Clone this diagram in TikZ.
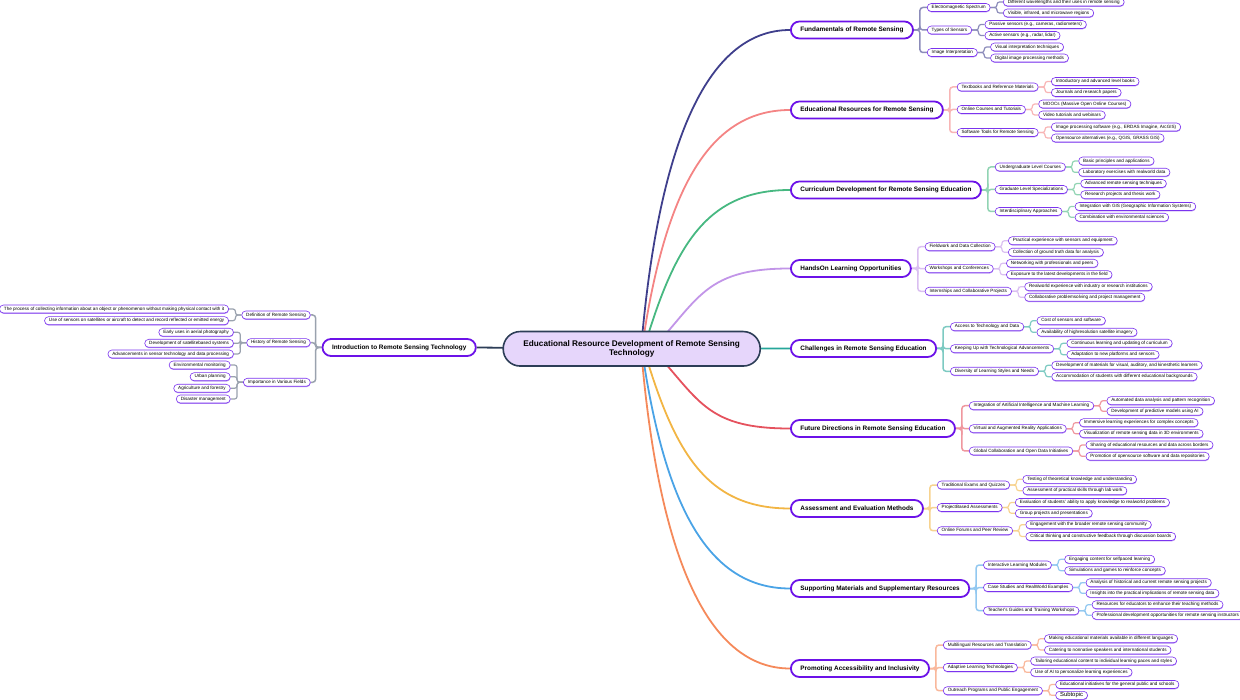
\documentclass[tikz,border=0pt]{standalone}
\usepackage{fontspec}
\setmainfont{Liberation Sans}
\usetikzlibrary{shadows}
\pgfdeclarelayer{bg}
\pgfsetlayers{bg,main}
\definecolor{cnavy}{HTML}{3F3F8C}
\definecolor{cedu}{HTML}{F48484}
\definecolor{ccur}{HTML}{47B881}
\definecolor{chan}{HTML}{C295E8}
\definecolor{ccha}{HTML}{26A69A}
\definecolor{cfut}{HTML}{E5525E}
\definecolor{cass}{HTML}{F2B544}
\definecolor{csup}{HTML}{4AA3E6}
\definecolor{cpro}{HTML}{F5895A}
\definecolor{cint}{HTML}{2D3E57}
\definecolor{mpurp}{HTML}{6C12E8}
\definecolor{spurp}{HTML}{7B34EE}
\definecolor{slav}{HTML}{B792F5}
\definecolor{cfill}{HTML}{E6D6FB}
\colorlet{bc}{cnavy}
\tikzset{
  mainn/.style={draw=mpurp, line width=1.8pt, fill=white, rounded corners=8.5pt,
    minimum height=17pt, inner xsep=9.5pt, inner ysep=0pt,
    font=\fontsize{6.4}{7}\selectfont\bfseries},
  subn/.style={draw=spurp, line width=0.6pt, fill=white, rounded corners=4pt,
    minimum height=8pt, inner xsep=4.5pt, inner ysep=0pt, text height=3.3pt, text depth=1pt,
    font=\fontsize{4.6}{5}\selectfont,
    drop shadow={shadow xshift=0.2pt, shadow yshift=-0.9pt, fill=slav, opacity=1}},
  cen/.style={draw=cint, line width=1.6pt, fill=cfill, rounded corners=17pt,
    minimum width=257pt, minimum height=34.5pt, align=center,
    font=\fontsize{8.2}{9.6}\selectfont\bfseries},
  crv/.style={line width=1.8pt},
  brA/.style={draw=bc!60!white, line width=1.5pt, rounded corners=3pt},
  brB/.style={draw=bc!60!white, line width=1.2pt, rounded corners=2.5pt},
}
\newcommand\mkL[4]{%
  \path (#1.east) ++(13,0) coordinate (#2-p) (0,#3) coordinate (#2-q);
  \node[subn,anchor=west] (#2) at (#2-p |- #2-q) {#4};
  \begin{pgfonlayer}{bg}\draw[brA] (#1.east) -- ++(6,0) |- (#2.west);\end{pgfonlayer}}
\newcommand\mkM[4]{%
  \path (#1.east) ++(12.5,0) coordinate (#2-p) (0,#3) coordinate (#2-q);
  \node[subn,anchor=west] (#2) at (#2-p |- #2-q) {#4};
  \begin{pgfonlayer}{bg}\draw[brB] (#1.east) -- ++(6.5,0) |- (#2.west);\end{pgfonlayer}}
\newcommand\mkLl[4]{%
  \path (#1.west) ++(-11,0) coordinate (#2-p) (0,#3) coordinate (#2-q);
  \node[subn,anchor=east] (#2) at (#2-p |- #2-q) {#4};
  \begin{pgfonlayer}{bg}\draw[brA] (#1.west) -- ++(-6,0) |- (#2.east);\end{pgfonlayer}}
\newcommand\mkMl[4]{%
  \path (#1.west) ++(-12.5,0) coordinate (#2-p) (0,#3) coordinate (#2-q);
  \node[subn,anchor=east] (#2) at (#2-p |- #2-q) {#4};
  \begin{pgfonlayer}{bg}\draw[brB] (#1.west) -- ++(-6,0) |- (#2.east);\end{pgfonlayer}}
\begin{document}
\begin{tikzpicture}[x=1pt,y=-1pt]
\useasboundingbox (0,0) rectangle (1240,700);
% main nodes
\node[mainn,anchor=west] (fund) at (790,30) {Fundamentals of Remote Sensing};
\node[mainn,anchor=west] (edu) at (790,110) {Educational Resources for Remote Sensing};
\node[mainn,anchor=west] (curr) at (790,190) {Curriculum Development for Remote Sensing Education};
\node[mainn,anchor=west] (hands) at (790,268.5) {HandsOn Learning Opportunities};
\node[mainn,anchor=west] (chall) at (790,348.5) {Challenges in Remote Sensing Education};
\node[mainn,anchor=west] (fut) at (790,428.5) {Future Directions in Remote Sensing Education};
\node[mainn,anchor=west] (assess) at (790,508.5) {Assessment and Evaluation Methods};
\node[mainn,anchor=west] (supp) at (790,588.5) {Supporting Materials and Supplementary Resources};
\node[mainn,anchor=west] (promo) at (790,668.5) {Promoting Accessibility and Inclusivity};
\node[mainn,anchor=east] (intro) at (476.7,347.5) {Introduction to Remote Sensing Technology};
\coordinate (cu) at (640,362);
\coordinate (cd) at (640,336);
\coordinate (cs) at (632,349);
% curves
\begin{pgfonlayer}{bg}
\draw[crv,cnavy] (cu) .. controls (656.5,146) and (706,30) .. (fund.west);
\draw[crv,cedu] (cu) .. controls (662,198) and (705,110) .. (edu.west);
\draw[crv,ccur] (cu) .. controls (672,250) and (703,190) .. (curr.west);
\draw[crv,chan] (cu) .. controls (699,303) and (699,268.5) .. (hands.west);
\draw[crv,ccha] (cs) -- (chall.west);
\draw[crv,cfut] (cd) .. controls (699,395) and (699,428.5) .. (fut.west);
\draw[crv,cass] (cd) .. controls (672,448) and (703,508.5) .. (assess.west);
\draw[crv,csup] (cd) .. controls (662,500) and (705,588.5) .. (supp.west);
\draw[crv,cpro] (cd) .. controls (656.5,552) and (706,668.5) .. (promo.west);
\draw[crv,cint] (cs) -- (intro.east);
\end{pgfonlayer}
\node[cen] (cen) at (631.7,348.8) {Educational Resource Development of Remote Sensing\\Technology};
% Fundamentals
\colorlet{bc}{cnavy}
\mkL{fund}{f1}{7.5}{Electromagnetic Spectrum}
\mkL{fund}{f2}{30}{Types of Sensors}
\mkL{fund}{f3}{52.5}{Image Interpretation}
\mkM{f1}{f11}{2}{Different wavelengths and their uses in remote sensing}
\mkM{f1}{f12}{13}{Visible, infrared, and microwave regions}
\mkM{f2}{f21}{24.5}{Passive sensors (e.g., cameras, radiometers)}
\mkM{f2}{f22}{35.5}{Active sensors (e.g., radar, lidar)}
\mkM{f3}{f31}{47}{Visual interpretation techniques}
\mkM{f3}{f32}{58}{Digital image processing methods}
% Educational resources
\colorlet{bc}{cedu}
\mkL{edu}{e1}{87}{Textbooks and Reference Materials}
\mkL{edu}{e2}{109.5}{Online Courses and Tutorials}
\mkL{edu}{e3}{132.5}{Software Tools for Remote Sensing}
\mkM{e1}{e11}{81.5}{Introductory and advanced level books}
\mkM{e1}{e12}{92.5}{Journals and research papers}
\mkM{e2}{e21}{104}{MOOCs (Massive Open Online Courses)}
\mkM{e2}{e22}{115}{Video tutorials and webinars}
\mkM{e3}{e31}{127}{Image processing software (e.g., ERDAS Imagine, ArcGIS)}
\mkM{e3}{e32}{138}{Opensource alternatives (e.g., QGIS, GRASS GIS)}
% Curriculum
\colorlet{bc}{ccur}
\mkL{curr}{c1}{167}{Undergraduate Level Courses}
\mkL{curr}{c2}{189.5}{Graduate Level Specializations}
\mkL{curr}{c3}{211.5}{Interdisciplinary Approaches}
\mkM{c1}{c11}{161}{Basic principles and applications}
\mkM{c1}{c12}{172.3}{Laboratory exercises with realworld data}
\mkM{c2}{c21}{183.5}{Advanced remote sensing techniques}
\mkM{c2}{c22}{194.7}{Research projects and thesis work}
\mkM{c3}{c31}{206.5}{Integration with GIS (Geographic Information Systems)}
\mkM{c3}{c32}{217.3}{Combination with environmental sciences}
% Hands-on
\colorlet{bc}{chan}
\mkL{hands}{h1}{246.7}{Fieldwork and Data Collection}
\mkL{hands}{h2}{268.7}{Workshops and Conferences}
\mkL{hands}{h3}{291.3}{Internships and Collaborative Projects}
\mkM{h1}{h11}{240.7}{Practical experience with sensors and equipment}
\mkM{h1}{h12}{252.3}{Collection of ground truth data for analysis}
\mkM{h2}{h21}{263.3}{Networking with professionals and peers}
\mkM{h2}{h22}{274.7}{Exposure to the latest developments in the field}
\mkM{h3}{h31}{286.7}{Realworld experience with industry or research institutions}
\mkM{h3}{h32}{297.3}{Collaborative problemsolving and project management}
% Challenges
\colorlet{bc}{ccha}
\mkL{chall}{ch1}{326.7}{Access to Technology and Data}
\mkL{chall}{ch2}{348.7}{Keeping Up with Technological Advancements}
\mkL{chall}{ch3}{371.3}{Diversity of Learning Styles and Needs}
\mkM{ch1}{ch11}{320.7}{Cost of sensors and software}
\mkM{ch1}{ch12}{332.3}{Availability of highresolution satellite imagery}
\mkM{ch2}{ch21}{343.3}{Continuous learning and updating of curriculum}
\mkM{ch2}{ch22}{354.7}{Adaptation to new platforms and sensors}
\mkM{ch3}{ch31}{365.3}{Development of materials for visual, auditory, and kinesthetic learners}
\mkM{ch3}{ch32}{376.7}{Accommodation of students with different educational backgrounds}
% Future
\colorlet{bc}{cfut}
\mkL{fut}{u1}{405.7}{Integration of Artificial Intelligence and Machine Learning}
\mkL{fut}{u2}{428.7}{Virtual and Augmented Reality Applications}
\mkL{fut}{u3}{451}{Global Collaboration and Open Data Initiatives}
\mkM{u1}{u11}{400.7}{Automated data analysis and pattern recognition}
\mkM{u1}{u12}{411.3}{Development of predictive models using AI}
\mkM{u2}{u21}{422.7}{Immersive learning experiences for complex concepts}
\mkM{u2}{u22}{433.7}{Visualization of remote sensing data in 3D environments}
\mkM{u3}{u31}{445}{Sharing of educational resources and data across borders}
\mkM{u3}{u32}{456.3}{Promotion of opensource software and data repositories}
% Assessment
\colorlet{bc}{cass}
\mkL{assess}{a1}{485}{Traditional Exams and Quizzes}
\mkL{assess}{a2}{507.5}{ProjectBased Assessments}
\mkL{assess}{a3}{530.7}{Online Forums and Peer Review}
\mkM{a1}{a11}{479.3}{Testing of theoretical knowledge and understanding}
\mkM{a1}{a12}{490.7}{Assessment of practical skills through lab work}
\mkM{a2}{a21}{502.5}{Evaluation of students' ability to apply knowledge to realworld problems}
\mkM{a2}{a22}{513.3}{Group projects and presentations}
\mkM{a3}{a31}{524.7}{Engagement with the broader remote sensing community}
\mkM{a3}{a32}{536.5}{Critical thinking and constructive feedback through discussion boards}
% Supporting
\colorlet{bc}{csup}
\mkL{supp}{s1}{565}{Interactive Learning Modules}
\mkL{supp}{s2}{587.5}{Case Studies and RealWorld Examples}
\mkL{supp}{s3}{610.7}{Teacher's Guides and Training Workshops}
\mkM{s1}{s11}{559.3}{Engaging content for selfpaced learning}
\mkM{s1}{s12}{570.7}{Simulations and games to reinforce concepts}
\mkM{s2}{s21}{582.7}{Analysis of historical and current remote sensing projects}
\mkM{s2}{s22}{593.3}{Insights into the practical implications of remote sensing data}
\mkM{s3}{s31}{604.7}{Resources for educators to enhance their teaching methods}
\mkM{s3}{s32}{615.3}{Professional development opportunities for remote sensing instructors}
% Promoting
\colorlet{bc}{cpro}
\mkL{promo}{p1}{645}{Multilingual Resources and Translation}
\mkL{promo}{p2}{667.5}{Adaptive Learning Technologies}
\mkL{promo}{p3}{690.7}{Outreach Programs and Public Engagement}
\mkM{p1}{p11}{638.7}{Making educational materials available in different languages}
\mkM{p1}{p12}{650}{Catering to nonnative speakers and international students}
\mkM{p2}{p21}{661}{Tailoring educational content to individual learning paces and styles}
\mkM{p2}{p22}{672.3}{Use of AI to personalize learning experiences}
\mkM{p3}{p31}{684.5}{Educational initiatives for the general public and schools}
\mkM{p3}{p32}{695.3}{\fontsize{5.9}{6}\selectfont Subtopic}
% Introduction (left)
\colorlet{bc}{cint!80!white}
\mkLl{intro}{i1}{315}{Definition of Remote Sensing}
\mkLl{intro}{i2}{342.7}{History of Remote Sensing}
\mkLl{intro}{i3}{382.3}{Importance in Various Fields}
\mkMl{i1}{i11}{309}{The process of collecting information about an object or phenomenon without making physical contact with it}
\mkMl{i1}{i12}{320.7}{Use of sensors on satellites or aircraft to detect and record reflected or emitted energy}
\mkMl{i2}{i21}{332.3}{Early uses in aerial photography}
\mkMl{i2}{i22}{343.3}{Development of satellitebased systems}
\mkMl{i2}{i23}{354}{Advancements in sensor technology and data processing}
\mkMl{i3}{i31}{365}{Environmental monitoring}
\mkMl{i3}{i32}{376.7}{Urban planning}
\mkMl{i3}{i33}{388.3}{Agriculture and forestry}
\mkMl{i3}{i34}{399}{Disaster management}
\end{tikzpicture}
\end{document}
